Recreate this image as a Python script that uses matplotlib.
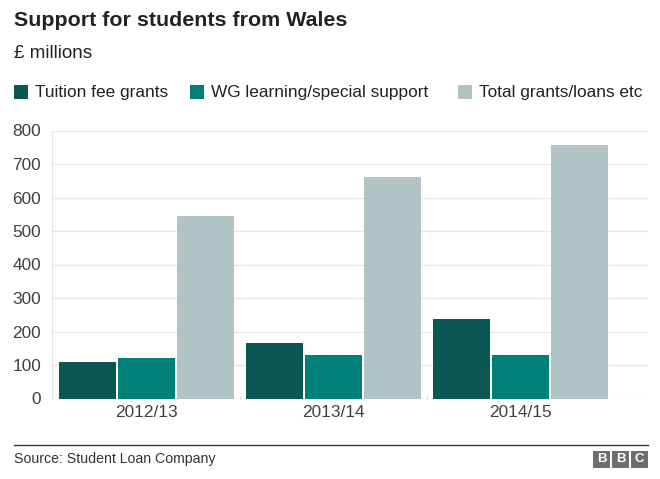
import numpy as np
import matplotlib.pyplot as plt
from matplotlib.patches import Rectangle

plt.rcParams['font.family'] = ['Liberation Sans', 'DejaVu Sans']

# DATA
years = ['2012/13', '2013/14', '2014/15']
series_names = ['Tuition fee grants', 'WG learning/special support', 'Total grants/loans etc']
tuition = [108, 167, 237]
wg_support = [121, 131, 129]
total = [544, 662, 757]
yticks = [0, 100, 200, 300, 400, 500, 600, 700, 800]

colors = ['#0b5753', '#008079', '#b0c4c5']

fig = plt.figure(figsize=(6.6, 4.79), dpi=100)
W, H = 660, 479

ax = fig.add_axes([52 / W, 1 - 398.5 / H, (648 - 52) / W, (398.5 - 130.5) / H])

x = np.arange(len(years))
width = 0.305
step = 0.316
for i, vals in enumerate([tuition, wg_support, total]):
    ax.bar(x + (i - 1) * step, vals, width=width, color=colors[i], zorder=3)

ax.set_xlim(-0.506, 2.685)
ax.set_ylim(0, 800)
ax.set_yticks(yticks)
ax.set_xticks(x)
ax.set_xticklabels(years)
ax.grid(axis='y', color='#e6e6e6', linewidth=1, zorder=0)
for s in ['top', 'right', 'bottom']:
    ax.spines[s].set_visible(False)
ax.spines['left'].set_color('#e6e6e6')
ax.tick_params(axis='both', length=0, labelsize=12.4, labelcolor='#404040')
ax.tick_params(axis='y', pad=8)
ax.tick_params(axis='x', pad=5)
# small separators between groups on the baseline
for sep in [0.5, 1.5]:
    ax.plot([sep, sep], [0, 8], color='#e0e0e0', linewidth=1, zorder=2, clip_on=False)

# title and subtitle
fig.text(14 / W, 1 - 20 / H, 'Support for students from Wales', fontsize=15.4, fontweight='bold',
         color='#222222', va='center', ha='left')
fig.text(14 / W, 1 - 54 / H, '£ millions', fontsize=13.6, color='#222222', va='center', ha='left')

# legend
leg_x = [14, 190, 458]
for lx, name, c in zip(leg_x, series_names, colors):
    fig.patches.append(Rectangle((lx / W, 1 - 99 / H), 14 / W, 14 / H, transform=fig.transFigure,
                                 facecolor=c, edgecolor='none'))
    fig.text((lx + 21) / W, 1 - 92 / H, name, fontsize=12.4, color='#222222', va='center', ha='left')

# footer
fig.add_artist(plt.Line2D([14 / W, 648 / W], [1 - 445 / H, 1 - 445 / H], color='#333333',
                          linewidth=1, transform=fig.transFigure))
fig.text(14 / W, 1 - 459 / H, 'Source: Student Loan Company', fontsize=10.2, color='#333333',
         va='center', ha='left')
for k, letter in enumerate('BBC'):
    x0 = 593 + k * 19
    fig.patches.append(Rectangle((x0 / W, 1 - 468 / H), 17 / W, 17 / H, transform=fig.transFigure,
                                 facecolor='#6e6e6e', edgecolor='none'))
    fig.text((x0 + 8.5) / W, 1 - 459.5 / H, letter, fontsize=9.5, fontweight='bold', color='white',
             va='center', ha='center')

fig.savefig('out.png', dpi=100, facecolor='white')
